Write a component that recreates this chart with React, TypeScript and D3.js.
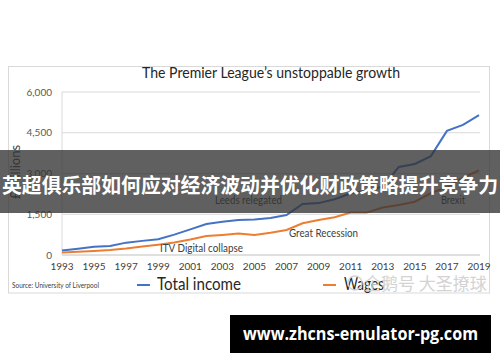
import React from "react";
import * as d3 from "d3";

const years = d3.range(1993, 2020);
const tickYears = years.filter((y) => (y - 1993) % 2 === 0);
const totalIncome = [165, 230, 305, 330, 455, 520, 580, 750, 945, 1140, 1220, 1290, 1310, 1360, 1470, 1880, 1910, 2050, 2270, 2360, 2520, 3240, 3350, 3640, 4570, 4790, 5150];
const wages = [95, 120, 150, 185, 240, 310, 380, 460, 570, 700, 740, 790, 740, 820, 920, 1170, 1290, 1390, 1560, 1560, 1750, 1840, 1960, 2280, 2500, 2850, 3110];
const yTicks = [0, 1500, 3000, 4500, 6000];
const annotations = [
  { text: "ITV Digital collapse", x: 160, y: 251.5, w: 83 },
  { text: "Leeds relegated", x: 215, y: 204, w: 67 },
  { text: "Great Recession", x: 289, y: 236.5, w: 69 },
  { text: "Brexit", x: 441, y: 203.5, w: 24 },
];

const FONT = "Lato, 'Open Sans', sans-serif";

export default function App() {
  const x = d3.scalePoint<number>().domain(years).range([62, 479]);
  const y = d3.scaleLinear().domain([0, 6000]).range([255, 92]);
  const line = d3
    .line<number>()
    .x((_, i) => x(years[i]) as number)
    .y((d) => y(d));

  return (
    <div style={{ position: "fixed", left: 0, top: 0 }}>
      <svg width={500} height={362} style={{ display: "block", background: "#fff" }}>
        <rect x={0} y={0} width={500} height={362} fill="#fff" />
        {/* chart frame */}
        <rect x={8.5} y={66.5} width={481} height={226.5} fill="#fff" stroke="#d9d9d9" strokeWidth={1} />
        <text x={142} y={78} fontFamily={FONT} fontSize={14.5} fill="#262626" textLength={258} lengthAdjust="spacingAndGlyphs">
          The Premier League’s unstoppable growth
        </text>
        {/* grid */}
        {yTicks.map((t) => (
          <g key={t}>
            <line x1={62} x2={480} y1={y(t)} y2={y(t)} stroke={t === 0 ? "#bfbfbf" : "#d9d9d9"} strokeWidth={1.2} />
            <text x={52} y={y(t) + 3.5} textAnchor="end" fontFamily={FONT} fontSize={10} fill="#595959">
              {d3.format(",")(t)}
            </text>
          </g>
        ))}
        <line x1={62} x2={62} y1={y(6000)} y2={y(0)} stroke="#d9d9d9" strokeWidth={1} />
        {tickYears.map((yr) => (
          <text key={yr} x={x(yr)} y={270} textAnchor="middle" fontFamily={FONT} fontSize={10} fill="#404040">
            {yr}
          </text>
        ))}
        <text transform="translate(20,172) rotate(-90)" textAnchor="middle" fontFamily={FONT} fontSize={13} fill="#404040">
          £ millions
        </text>
        {/* series */}
        <path d={line(totalIncome) || ""} fill="none" stroke="#4472C4" strokeWidth={2} />
        <path d={line(wages) || ""} fill="none" stroke="#ED7D31" strokeWidth={2} />
        {annotations.map((a) => (
          <text key={a.text} x={a.x} y={a.y} fontFamily={FONT} fontSize={10.5} fill="#404040" textLength={a.w} lengthAdjust="spacingAndGlyphs">
            {a.text}
          </text>
        ))}
        {/* source & legend */}
        <text x={12} y={288} fontFamily={FONT} fontSize={7} fill="#404040" textLength={87} lengthAdjust="spacingAndGlyphs">
          Source: University of Liverpool
        </text>
        <line x1={137} x2={150} y1={285} y2={285} stroke="#4472C4" strokeWidth={2} />
        <text x={157} y={290} fontFamily={FONT} fontSize={17} fill="#262626" textLength={84} lengthAdjust="spacingAndGlyphs">
          Total income
        </text>
        <line x1={323} x2={336} y1={285} y2={285} stroke="#ED7D31" strokeWidth={2} />
        <text x={344} y={290} fontFamily={FONT} fontSize={17} fill="#262626" textLength={40} lengthAdjust="spacingAndGlyphs">
          Wages
        </text>
        {/* watermark */}
        <circle cx={355} cy={283} r={7} fill="none" stroke="#d0d0d0" strokeWidth={1.5} opacity={0.9} />
        <text x={364} y={290} fontFamily="'Noto Sans CJK SC', sans-serif" fontSize={17} fill="#cfcfcf" opacity={0.9}>
          企鹅号 大圣撩球
        </text>
        {/* overlay banner */}
        <rect x={0} y={150} width={500} height={63} fill="#333" opacity={0.78} />
        <text x={250} y={193} textAnchor="middle" fontFamily="'Noto Sans CJK SC', sans-serif" fontWeight="bold" fontSize={20} fill="#fff" textLength={496} lengthAdjust="spacingAndGlyphs">
          英超俱乐部如何应对经济波动并优化财政策略提升竞争力
        </text>
        {/* url box */}
        <rect x={230} y={315} width={261} height={38} fill="#000" />
        <text x={243} y={340} fontFamily="'Open Sans', sans-serif" fontWeight="bold" fontSize={18} fill="#fff" textLength={235} lengthAdjust="spacingAndGlyphs">
          www.zhcns-emulator-pg.com
        </text>
      </svg>
    </div>
  );
}
